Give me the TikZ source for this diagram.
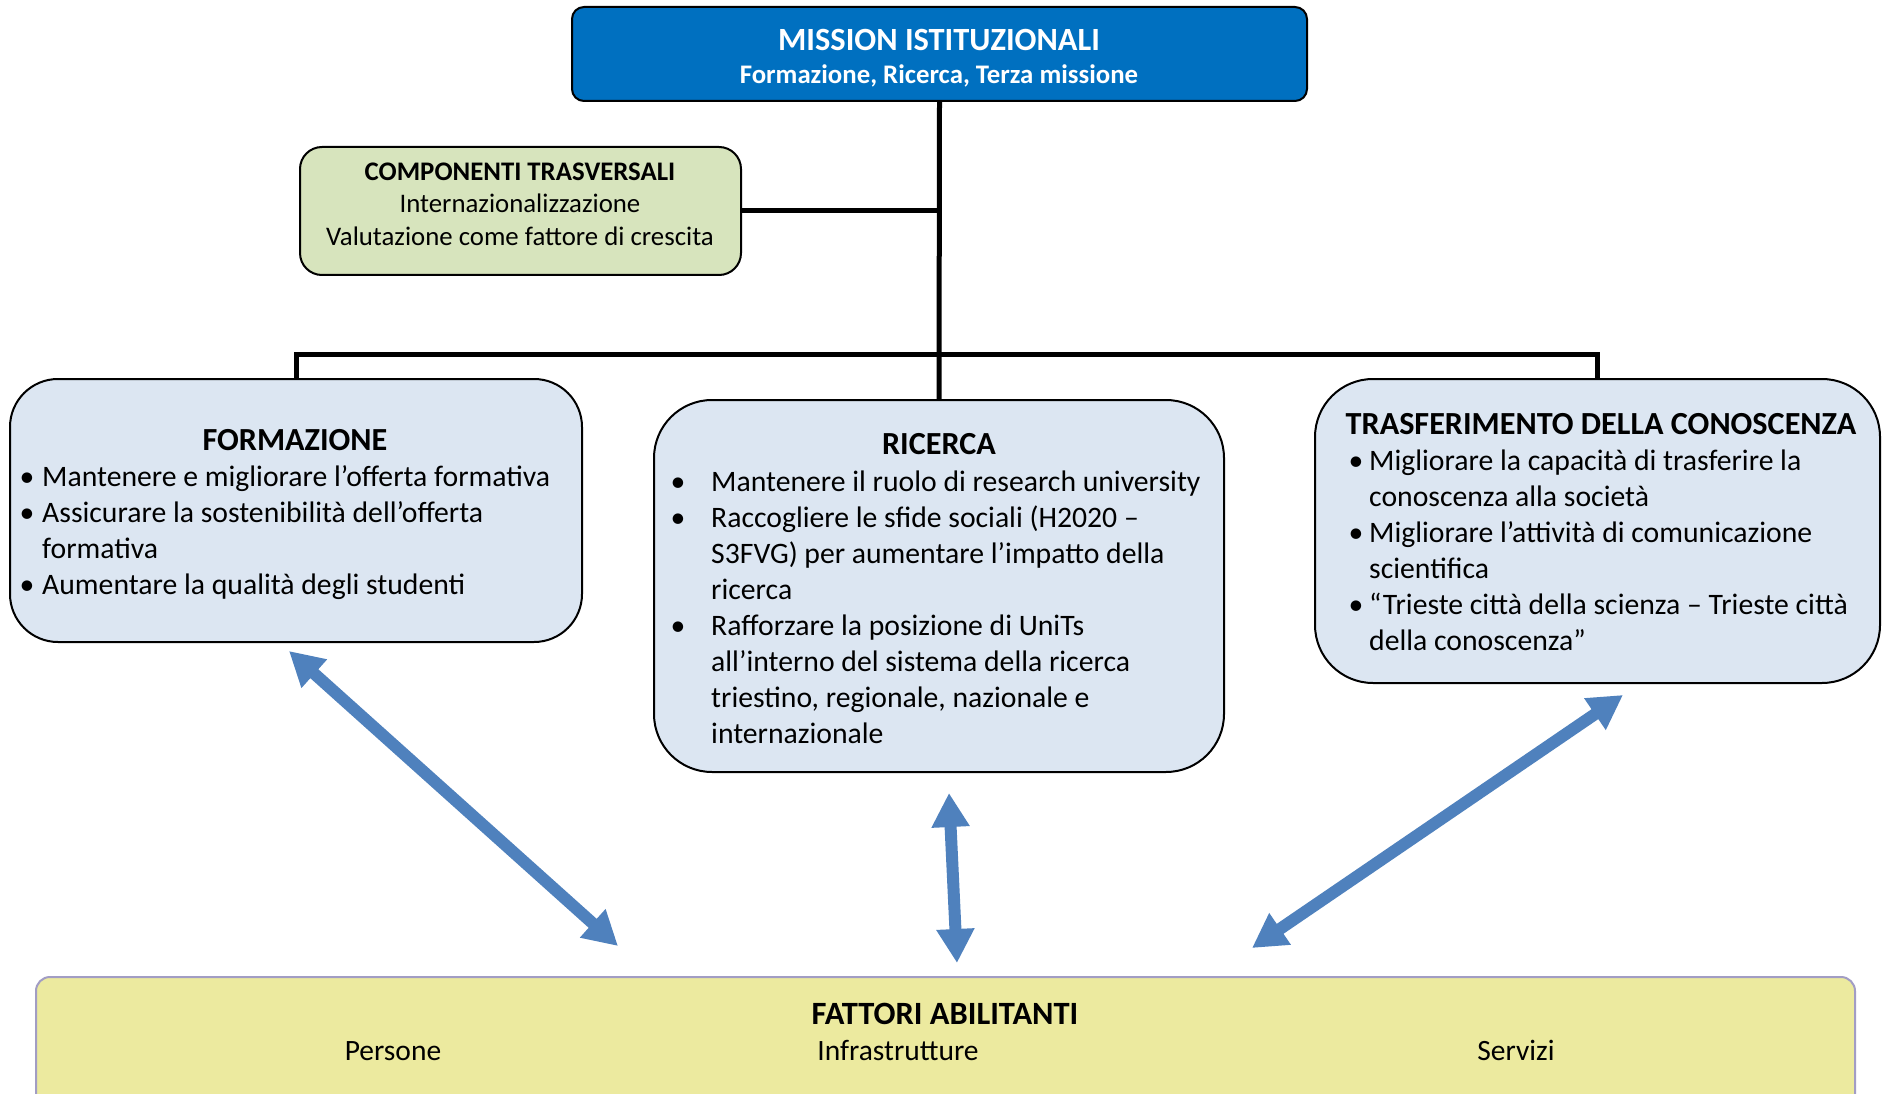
\documentclass[tikz,border=0pt]{standalone}
\usepackage{fontspec}
\setmainfont{Carlito}
\usetikzlibrary{arrows.meta}
\definecolor{missionblue}{HTML}{0070C0}
\definecolor{compgreen}{HTML}{D7E4BD}
\definecolor{boxblue}{HTML}{DCE6F2}
\definecolor{factyellow}{HTML}{ECEA9F}
\definecolor{factborder}{HTML}{A29DC4}
\definecolor{arrowblue}{HTML}{4F81BD}
\begin{document}
\begin{tikzpicture}[x=1pt,y=-1pt,
  box/.style={draw=black, line width=2pt, inner sep=0pt, rectangle},
  conn/.style={draw=black, line width=5pt},
  link/.style={draw=arrowblue, line width=12pt, {Triangle[width=36pt,length=34pt]}-{Triangle[width=36pt,length=34pt]}},
  body/.style={inner sep=0pt, anchor=mid west, font=\fontsize{29.7}{36}\selectfont},
  bul/.style={inner sep=0pt, anchor=mid, font=\fontsize{29.7}{36}\selectfont},
  head/.style={inner sep=0pt, anchor=mid, font=\fontsize{32.2}{38}\selectfont\bfseries},
  small/.style={inner sep=0pt, anchor=mid, font=\fontsize{26.8}{32}\selectfont},
  bottomtxt/.style={inner sep=0pt, anchor=mid, font=\fontsize{29.5}{34}\selectfont},
]
\clip (0,0) rectangle (1883,1094);
\fill[white] (0,0) rectangle (1883,1094);

% boxes
\node[box, fill=missionblue, rounded corners=12pt, minimum width=735pt, minimum height=94pt] (mission) at (939.5,54) {};
\node[box, fill=compgreen, rounded corners=22pt, minimum width=441pt, minimum height=128pt] (comp) at (520.5,211) {};
\node[box, fill=boxblue, rounded corners=48pt, minimum width=572pt, minimum height=263pt] (form) at (296,510.5) {};
\node[box, fill=boxblue, rounded corners=58pt, minimum width=570pt, minimum height=372pt] (ric) at (939,586) {};
\node[box, fill=boxblue, rounded corners=58pt, minimum width=565pt, minimum height=304pt] (trasf) at (1597.5,531) {};
\node[box, draw=factborder, fill=factyellow, rounded corners=14pt, minimum width=1819pt, minimum height=133pt] (fatt) at (945.5,1043.5) {};

% connectors
\coordinate (bar) at (939,354);
\draw[conn] (mission.south) -- (ric.north);
\draw[conn] (comp.east) -- (comp.east -| mission.south);
\draw[conn, line join=miter] (form.north) -- (form.north |- bar) -- (trasf.north |- bar) -- (trasf.north);

% arrows
\coordinate (a1s) at (289,651);
\coordinate (a1e) at (618,946);
\coordinate (a2s) at (949,793);
\coordinate (a2e) at (957,963);
\coordinate (a3s) at (1623,695);
\coordinate (a3e) at (1252,948);
\draw[link] (a1s) -- (a1e);
\draw[link] (a2s) -- (a2e);
\draw[link] (a3s) -- (a3e);

% mission text
\node[inner sep=0pt, anchor=mid, text=white, font=\fontsize{32.4}{38}\selectfont\bfseries] (mt1) at (939,48) {MISSION ISTITUZIONALI};
\node[inner sep=0pt, anchor=mid, text=white, font=\fontsize{26.8}{32}\selectfont\bfseries] (mt2) at (939,81) {Formazione, Ricerca, Terza missione};

% components text
\node[small, font=\fontsize{26.8}{32}\selectfont\bfseries] (ct1) at (520,178) {COMPONENTI TRASVERSALI};
\node[small] (ct2) at (520,210) {Internazionalizzazione};
\node[small] (ct3) at (520,243) {Valutazione come fattore di crescita};

% formazione
\node[head] (fh) at (295,448) {FORMAZIONE};
\node[bul] (fb1) at (27,484) {•};
\node[body] (f1) at (42,484) {Mantenere e migliorare l’offerta formativa};
\node[bul] (fb2) at (27,520) {•};
\node[body] (f2) at (42,520) {Assicurare la sostenibilità dell’offerta};
\node[body] (f3) at (42,556) {formativa};
\node[bul] (fb3) at (27,592) {•};
\node[body] (f4) at (42,592) {Aumentare la qualità degli studenti};

% ricerca
\node[head] (rh) at (939,452) {RICERCA};
\node[bul] (rb1) at (678,489) {•};
\node[body] (r1) at (711,489) {Mantenere il ruolo di research university};
\node[bul] (rb2) at (678,525) {•};
\node[body] (r2) at (711,525) {Raccogliere le sfide sociali (H2020 –};
\node[body] (r3) at (711,561) {S3FVG) per aumentare l’impatto della};
\node[body] (r4) at (711,597) {ricerca};
\node[bul] (rb3) at (678,633) {•};
\node[body] (r5) at (711,633) {Rafforzare la posizione di UniTs};
\node[body] (r6) at (711,669) {all’interno del sistema della ricerca};
\node[body] (r7) at (711,705) {triestino, regionale, nazionale e};
\node[body] (r8) at (711,741) {internazionale};

% trasferimento
\node[head] (th) at (1601,432) {TRASFERIMENTO DELLA CONOSCENZA};
\node[bul] (tb1) at (1356,468) {•};
\node[body] (t1) at (1369,468) {Migliorare la capacità di trasferire la};
\node[body] (t2) at (1369,504) {conoscenza alla società};
\node[bul] (tb2) at (1356,540) {•};
\node[body] (t3) at (1369,540) {Migliorare l’attività di comunicazione};
\node[body] (t4) at (1369,576) {scientifica};
\node[bul] (tb3) at (1356,612) {•};
\node[body] (t5) at (1369,612) {“Trieste città della scienza – Trieste città};
\node[body] (t6) at (1369,648) {della conoscenza”};

% fattori abilitanti
\node[bottomtxt, font=\fontsize{32.5}{38}\selectfont\bfseries] (fa) at (945,1022) {FATTORI ABILITANTI};
\node[bottomtxt] (fa1) at (393,1058) {Persone};
\node[bottomtxt] (fa2) at (898,1058) {Infrastrutture};
\node[bottomtxt] (fa3) at (1516,1058) {Servizi};
\end{tikzpicture}
\end{document}
